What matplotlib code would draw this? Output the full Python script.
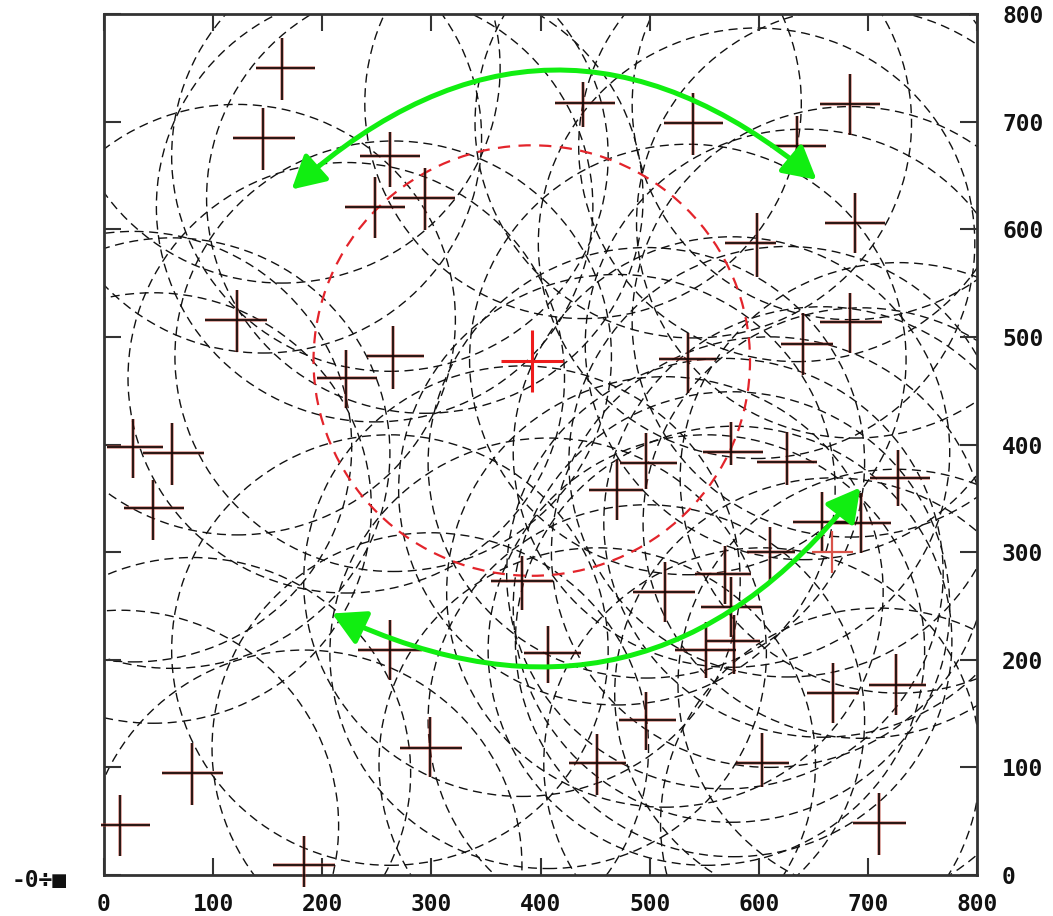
import matplotlib
matplotlib.use("Agg")
import matplotlib.pyplot as plt
from matplotlib.patches import Circle, FancyArrowPatch
import numpy as np

# cross centres and asymmetric half-lengths (left, right, down, up)
cx = [163, 146, 262, 248, 294, 122, 265, 222, 27, 62, 45, 262, 299, 81, 15, 183,
      383, 439, 540, 635, 684, 688, 598, 684, 641, 535, 575, 626, 728, 497, 470,
      658, 694, 610, 569, 575, 514, 552, 577, 407, 668, 726, 497, 452, 603, 710]
cy = [750, 685, 668, 621, 629, 516, 482, 462, 398, 392, 341, 209, 118, 95, 46, 9,
      273, 717, 699, 677, 716, 606, 587, 514, 493, 479, 393, 384, 369, 383, 358,
      328, 327, 300, 280, 249, 263, 209, 217, 206, 169, 177, 144, 104, 104, 48]
xl = [24, 28, 27, 27, 29, 29, 24, 27, 24, 26, 27, 29, 28, 28, 18, 28,
      28, 26, 27, 25, 28, 27, 29, 28, 21, 26, 26, 28, 26, 24, 26,
      27, 26, 21, 27, 28, 29, 29, 24, 22, 24, 25, 25, 26, 24, 24]
xr = [30, 29, 28, 28, 28, 27, 28, 28, 27, 30, 28, 29, 29, 28, 27, 29,
      28, 29, 27, 27, 27, 28, 18, 29, 27, 26, 29, 27, 29, 28, 24,
      28, 27, 23, 24, 27, 28, 27, 24, 30, 24, 27, 27, 26, 25, 25]
yd = [30, 30, 29, 29, 30, 30, 30, 28, 29, 30, 30, 28, 27, 30, 28, 20,
      27, 22, 30, 19, 28, 28, 31, 29, 28, 31, 12, 22, 26, 24, 28,
      28, 28, 28, 28, 28, 28, 26, 30, 28, 28, 28, 28, 30, 22, 29]
yu = [28, 28, 22, 28, 28, 28, 28, 26, 26, 28, 26, 28, 29, 28, 28, 27,
      23, 20, 28, 28, 28, 28, 28, 27, 29, 25, 28, 28, 26, 28, 28,
      28, 28, 23, 26, 28, 28, 26, 25, 25, 28, 28, 26, 27, 28, 28]

# highlighted points
red_x, red_y, red_r = 392, 478, 200
red_err = [28, 29, 29, 28]
pink_x, pink_y = 667, 300
pink_err = [18, 19, 19, 20]
radius = 200

ticks = [0, 100, 200, 300, 400, 500, 600, 700, 800]

# arrows (data coords)
arrow1 = [(172, 637), (653, 646)]
arrow2 = [(209, 243), (693, 360)]

fig = plt.figure(figsize=(10.53, 9.16), dpi=100)
ax = fig.add_axes([104 / 1053, 1 - 875 / 916, 873 / 1053, 861 / 916])
ax.set_xlim(0, 800)
ax.set_ylim(0, 800)

# dashed circles
for x, y in zip(cx, cy):
    ax.add_patch(Circle((x, y), radius, fill=False, ec="#111111", lw=1.0,
                        ls=(0, (6.5, 4)), zorder=1))
ax.add_patch(Circle((red_x, red_y), red_r, fill=False, ec="#e3242b", lw=1.6,
                    ls=(0, (5.5, 3.8)), zorder=2))

# crosses: reddish halo under a dark line
xerr = [xl, xr]
yerr = [yd, yu]
ax.errorbar(cx, cy, xerr=xerr, yerr=yerr, fmt="none", ecolor="#b03a2e",
            elinewidth=2.8, alpha=0.45, capsize=0, clip_on=False, zorder=3)
eb = ax.errorbar(cx, cy, xerr=xerr, yerr=yerr, fmt="none", ecolor="#1a0a08",
                 elinewidth=1.3, capsize=0, zorder=4)
for c in eb[2]:
    c.set_clip_on(False)
ax.errorbar([red_x], [red_y], xerr=[[red_err[0]], [red_err[1]]],
            yerr=[[red_err[2]], [red_err[3]]], fmt="none", ecolor="#ee1c1c",
            elinewidth=2.2, capsize=0, zorder=5)
ax.errorbar([pink_x], [pink_y], xerr=[[pink_err[0]], [pink_err[1]]],
            yerr=[[pink_err[2]], [pink_err[3]]], fmt="none", ecolor="#d9534a",
            elinewidth=1.6, capsize=0, zorder=5)

# green double-headed curved arrows
for (p1, p2), rad in [(arrow1, -0.43), (arrow2, 0.40)]:
    ax.add_patch(FancyArrowPatch(p1, p2, connectionstyle=f"arc3,rad={rad}",
                                 arrowstyle="<|-|>,head_length=1.0,head_width=0.55",
                                 mutation_scale=20, color="#11ee11", lw=3.6,
                                 zorder=6, shrinkA=0, shrinkB=0))

# axes styling
for s in ax.spines.values():
    s.set_linewidth(2.0)
    s.set_color("#333333")
ax.set_xticks(ticks)
ax.set_yticks(ticks)
ax.tick_params(direction="in", length=12, width=1.5, color="#333333",
               top=True, bottom=True, left=True, right=True,
               labelleft=False, labelright=True, labelbottom=True)
ax.tick_params(axis="x", pad=13)
ax.tick_params(axis="y", pad=18)
for lab in ax.get_xticklabels() + ax.get_yticklabels():
    lab.set_fontfamily("DejaVu Sans Mono")
    lab.set_fontweight("bold")
    lab.set_fontsize(16.5)
    lab.set_color("#111111")

fig.text(12 / 1053, 1 - 880 / 916, "-0÷■", family="DejaVu Sans Mono",
         weight="bold", fontsize=16.5, va="center", ha="left", color="#111111")

fig.savefig("out.png", dpi=100)
